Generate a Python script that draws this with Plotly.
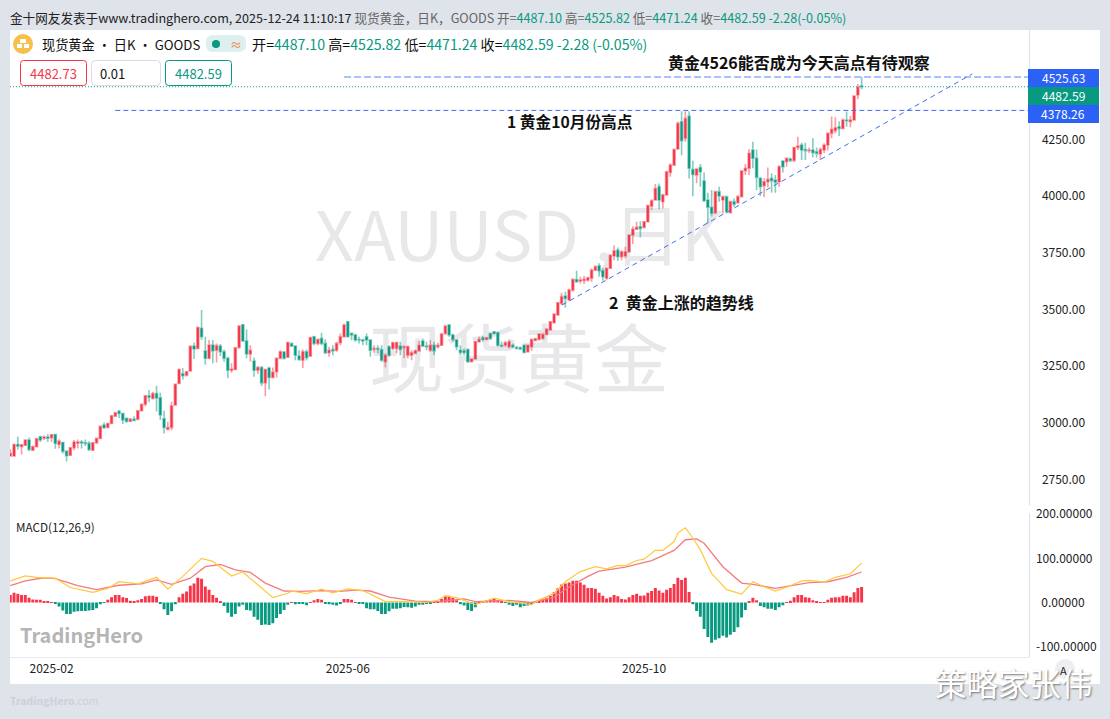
"""XAUUSD daily candles with MACD pane, TradingHero style screenshot."""
import plotly.graph_objects as go

W, H = 1110, 719
FONT = "Noto Sans CJK SC"

# daily candles
opens = [
    2855, 2855, 2905, 2895, 2902, 2925, 2880, 2895, 2939, 2933,
    2938, 2935, 2949, 2905, 2914, 2875, 2858, 2891, 2911, 2916,
    2913, 2910, 2880, 2913, 2932, 2991, 2980, 2998, 3030, 3052,
    3042, 3021, 3008, 3017, 3016, 3054, 3083, 3120, 3108, 3130,
    3111, 3019, 2972, 2980, 3079, 3174, 3217, 3210, 3229, 3339,
    3329, 3418, 3317, 3285, 3344, 3321, 3339, 3314, 3285, 3233,
    3236, 3333, 3433, 3362, 3304, 3273, 3233, 3245, 3177, 3242,
    3201, 3226, 3285, 3313, 3290, 3351, 3339, 3295, 3277, 3314,
    3295, 3380, 3351, 3373, 3351, 3310, 3324, 3321, 3354, 3380,
    3446, 3395, 3388, 3368, 3366, 3380, 3366, 3324, 3329, 3324,
    3270, 3336, 3329, 3329, 3339, 3333, 3299, 3299, 3307, 3318,
    3361, 3339, 3321, 3343, 3336, 3343, 3395, 3432, 3388, 3366,
    3321, 3317, 3324, 3270, 3282, 3358, 3376, 3368, 3395, 3402,
    3398, 3343, 3343, 3336, 3343, 3333, 3332, 3343, 3314, 3336,
    3364, 3368, 3373, 3390, 3410, 3442, 3476, 3527, 3560, 3542,
    3586, 3633, 3626, 3628, 3630, 3638, 3674, 3693, 3671, 3638,
    3682, 3736, 3762, 3733, 3736, 3755, 3829, 3854, 3865, 3862,
    3887, 3956, 3983, 4042, 3976, 4005, 4105, 4137, 4208, 4328,
    4255, 4353, 4118, 4093, 4126, 4067, 3983, 3951, 3927, 4020,
    3983, 3998, 3927, 3976, 3971, 3998, 4112, 4123, 4204, 4167,
    4079, 4046, 4064, 4079, 4071, 4064, 4155, 4152, 4164, 4157,
    4215, 4226, 4206, 4201, 4204, 4196, 4186, 4204, 4226, 4277,
    4289, 4306, 4299, 4336, 4329, 4336, 4446, 4487.10,
]
highs = [
    2883, 2905, 2939, 2905, 2928, 2936, 2901, 2932, 2944, 2945,
    2950, 2952, 2949, 2928, 2917, 2880, 2892, 2925, 2927, 2925,
    2927, 2920, 2916, 2935, 2986, 3002, 3000, 3035, 3048, 3057,
    3045, 3024, 3022, 3030, 3056, 3084, 3123, 3145, 3138, 3164,
    3133, 3054, 3005, 3094, 3174, 3240, 3241, 3228, 3340, 3355,
    3425, 3498, 3380, 3366, 3366, 3351, 3348, 3324, 3292, 3263,
    3335, 3432, 3436, 3412, 3343, 3289, 3251, 3251, 3236, 3248,
    3245, 3289, 3321, 3317, 3358, 3354, 3343, 3321, 3324, 3324,
    3380, 3385, 3373, 3398, 3368, 3336, 3343, 3358, 3395, 3439,
    3450, 3398, 3395, 3380, 3373, 3395, 3366, 3343, 3343, 3343,
    3307, 3343, 3358, 3358, 3358, 3343, 3343, 3321, 3324, 3362,
    3373, 3358, 3366, 3358, 3354, 3398, 3432, 3436, 3395, 3368,
    3343, 3329, 3329, 3285, 3360, 3380, 3385, 3380, 3398, 3405,
    3402, 3358, 3362, 3368, 3350, 3340, 3338, 3345, 3345, 3373,
    3376, 3395, 3398, 3416, 3448, 3482, 3534, 3574, 3579, 3593,
    3638, 3671, 3645, 3648, 3645, 3682, 3696, 3704, 3682, 3685,
    3743, 3784, 3774, 3762, 3777, 3832, 3868, 3887, 3890, 3890,
    3962, 3986, 4054, 4056, 4012, 4112, 4145, 4210, 4328, 4375,
    4375, 4375, 4156, 4123, 4142, 4105, 4015, 4027, 4024, 4042,
    4001, 4001, 3979, 3990, 4005, 4115, 4142, 4208, 4240, 4206,
    4083, 4079, 4127, 4101, 4093, 4137, 4157, 4171, 4171, 4218,
    4262, 4236, 4236, 4215, 4255, 4215, 4215, 4233, 4280, 4351,
    4348, 4331, 4343, 4373, 4354, 4445, 4495, 4525.82,
]
lows = [
    2851, 2855, 2883, 2861, 2900, 2875, 2878, 2892, 2916, 2925,
    2916, 2916, 2886, 2888, 2866, 2830, 2855, 2880, 2888, 2888,
    2898, 2877, 2879, 2907, 2930, 2975, 2979, 2995, 3028, 3022,
    2995, 3001, 3005, 3008, 3014, 3052, 3074, 3092, 3104, 3051,
    3013, 2954, 2968, 2968, 3075, 3172, 3192, 3208, 3228, 3282,
    3327, 3366, 3257, 3285, 3263, 3267, 3295, 3270, 3198, 3221,
    3234, 3327, 3362, 3285, 3271, 3204, 3216, 3163, 3118, 3148,
    3201, 3201, 3283, 3280, 3290, 3336, 3277, 3274, 3243, 3277,
    3291, 3343, 3343, 3343, 3304, 3292, 3299, 3314, 3343, 3377,
    3380, 3366, 3358, 3351, 3343, 3343, 3292, 3310, 3307, 3270,
    3245, 3292, 3321, 3307, 3299, 3285, 3285, 3277, 3304, 3314,
    3336, 3321, 3314, 3299, 3329, 3339, 3388, 3380, 3358, 3321,
    3299, 3299, 3266, 3268, 3280, 3354, 3358, 3366, 3366, 3390,
    3336, 3333, 3336, 3329, 3330, 3325, 3322, 3310, 3310, 3318,
    3360, 3365, 3368, 3388, 3408, 3440, 3474, 3520, 3508, 3538,
    3579, 3618, 3615, 3613, 3623, 3623, 3671, 3645, 3627, 3630,
    3680, 3718, 3715, 3718, 3726, 3751, 3789, 3851, 3818, 3860,
    3885, 3939, 3980, 3942, 3946, 4003, 4086, 4135, 4206, 4181,
    4240, 4078, 4000, 4057, 4042, 3976, 3880, 3910, 3921, 3976,
    3924, 3924, 3924, 3954, 3968, 3995, 4093, 4093, 4123, 4027,
    4001, 3995, 4039, 4015, 4015, 4042, 4105, 4130, 4152, 4152,
    4204, 4160, 4160, 4190, 4171, 4171, 4160, 4189, 4201, 4255,
    4277, 4265, 4295, 4306, 4304, 4333, 4427, 4471.24,
]
closes = [
    2866, 2905, 2898, 2904, 2925, 2883, 2895, 2930, 2925, 2938,
    2933, 2948, 2910, 2920, 2875, 2856, 2891, 2916, 2916, 2912,
    2910, 2883, 2913, 2932, 2985, 2979, 2998, 3032, 3045, 3042,
    3013, 3007, 3016, 3011, 3054, 3082, 3120, 3114, 3130, 3110,
    3035, 2980, 2980, 3076, 3171, 3236, 3208, 3226, 3338, 3326,
    3421, 3380, 3286, 3344, 3318, 3341, 3314, 3285, 3233, 3238,
    3332, 3427, 3362, 3304, 3321, 3233, 3245, 3177, 3236, 3201,
    3224, 3285, 3314, 3285, 3355, 3339, 3299, 3280, 3314, 3288,
    3377, 3351, 3368, 3351, 3310, 3321, 3318, 3351, 3380, 3432,
    3380, 3388, 3366, 3366, 3362, 3366, 3321, 3329, 3324, 3277,
    3299, 3299, 3354, 3355, 3324, 3336, 3336, 3310, 3318, 3343,
    3339, 3336, 3343, 3318, 3343, 3392, 3427, 3388, 3368, 3336,
    3311, 3311, 3270, 3282, 3358, 3368, 3368, 3376, 3373, 3395,
    3343, 3339, 3354, 3358, 3336, 3329, 3327, 3311, 3343, 3368,
    3371, 3392, 3390, 3414, 3446, 3480, 3530, 3557, 3549, 3586,
    3633, 3623, 3630, 3634, 3640, 3674, 3689, 3671, 3645, 3682,
    3740, 3759, 3733, 3755, 3755, 3829, 3854, 3863, 3858, 3887,
    3959, 3980, 4034, 3983, 4005, 4108, 4137, 4206, 4321, 4245,
    4343, 4123, 4096, 4120, 4108, 3980, 3951, 3924, 4020, 4001,
    3998, 3932, 3976, 3965, 3998, 4111, 4123, 4189, 4167, 4083,
    4042, 4064, 4074, 4068, 4061, 4130, 4130, 4167, 4157, 4215,
    4221, 4204, 4201, 4204, 4192, 4189, 4206, 4226, 4277, 4295,
    4302, 4299, 4336, 4333, 4336, 4442, 4480, 4482.59,
]

# macd histogram, one bar per candle
macd_hist = [
    17, 22, 20, 17, 17, 11, 7, 6, 6, 3,
    2, 1, -3, -9, -18, -26, -26, -21, -20, -19,
    -19, -18, -17, -13, -4, -1, 6, 12, 17, 17,
    12, 10, 4, 2, 5, 8, 14, 15, 15, 13,
    -2, -15, -28, -20, -4, 12, 20, 25, 38, 43,
    56, 54, 36, 29, 17, 11, 2, -8, -23, -32,
    -26, -9, -5, -17, -18, -32, -39, -51, -50, -51,
    -47, -35, -26, -17, -5, 1, -4, -3, -2, -6,
    1, 5, 8, 6, -2, -4, -5, -7, -2, 8,
    8, 6, 1, -2, -2, -13, -15, -15, -19, -26,
    -26, -20, -14, -14, -13, -10, -11, -12, -9, -5,
    -5, -3, -3, 1, 1, 8, 15, 15, 11, 5,
    -4, -7, -17, -19, -11, 3, 2, 5, 6, 8,
    5, 2, -1, -5, -8, -5, -11, -8, -7, -4,
    1, 4, 6, 11, 15, 23, 32, 41, 43, 45,
    49, 49, 45, 40, 33, 33, 31, 22, 15, 9,
    12, 17, 14, 8, 7, 12, 17, 20, 15, 16,
    22, 26, 33, 27, 22, 29, 33, 42, 56, 51,
    56, 24, -4, -19, -32, -60, -78, -91, -84, -81,
    -75, -79, -73, -67, -56, -34, -17, 2, 11, 5,
    -8, -11, -14, -14, -17, -11, -6, 1, 4, 12,
    17, 17, 12, 11, 5, 2, 1, 1, 6, 11,
    12, 12, 15, 15, 12, 23, 33, 35,
]

# macd lines, read at the bends only
dif_idx = [
    0, 4, 7, 12, 16, 19, 22, 26, 29, 34, 39, 42, 46, 51, 54, 59, 62, 66, 70, 74,
    75, 79, 83, 86, 90, 94, 96, 100, 105, 111, 114, 116, 119, 124, 129, 133, 139,
    141, 145, 148, 152, 156, 159, 162, 164, 167, 169, 172, 174, 177, 178, 180, 182,
    184, 187, 191, 195, 198, 201, 204, 208, 211, 213, 217, 220, 224, 227,
]
dif_vals = [
    49, 60, 57, 55, 34, 29, 23, 32, 47, 42, 57, 30, 59, 100, 93, 60, 69, 40, 11, 21,
    26, 20, 30, 22, 31, 27, 19, 2, 2, 0, 5, 15, 11, -5, 10, 2, -5,
    6, 21, 47, 70, 81, 76, 84, 83, 95, 98, 118, 118, 138, 157, 169, 146,
    119, 66, 29, 19, 47, 36, 26, 38, 49, 50, 46, 57, 65, 89,
]
dea_idx = [
    0, 4, 9, 12, 18, 23, 29, 35, 39, 43, 48, 52, 56, 60, 64, 68, 73, 77, 83, 88, 92, 96,
    101, 108, 114, 121, 124, 133, 139, 145, 149, 154, 157, 164, 171, 177, 180, 183, 185,
    190, 195, 198, 204, 210, 213, 218, 223, 227,
]
dea_vals = [
    38, 49, 56, 54, 38, 29, 39, 42, 51, 41, 55, 81, 86, 74, 68, 44, 26, 25, 27, 25, 28, 26,
    12, 3, 2, 8, 2, 5, 0, 12, 35, 59, 71, 80, 95, 118, 142, 144, 134,
    81, 44, 41, 32, 40, 45, 47, 57, 69,
]

price_ticks = [4250, 4000, 3750, 3500, 3250, 3000, 2750]
macd_ticks = [200, 100, 0, -100]
macd_tick_text = ["200.00000", "100.00000", "\u00a0\u00a00.00000", "-100.00000"]
month_idx = [11, 90, 169]
month_labels = ["2025-02", "2025-06", "2025-10"]

# drawn levels and trend line
high_level = 4525.63
last_level = 4482.59
oct_level = 4378.26
high_line_idx = [89, 271.5]
oct_line_idx = [28, 271.5]
last_line_idx = [-0.1, 271.5]
trend_idx = [147.1, 256.5]
trend_vals = [3520, 4539]

assert len(opens) == len(highs) == len(lows) == len(closes) == len(macd_hist) == 228

RED = "#F63548"
GREEN = "#089981"
BLUE = "#2B62F5"
candle_x = list(range(len(opens)))


def px(x):
    return x / W


def py(y):
    return 1 - y / H


def label(x, y, text, size=12, color="#111", anchor="left", **kw):
    return dict(xref="paper", yref="paper", x=px(x), y=py(y), text=text, showarrow=False,
                xanchor=anchor, yanchor="middle", align=anchor, borderpad=0, borderwidth=0,
                font=dict(family=FONT, size=size, color=color, **kw))


def box(x0, y0, x1, y1, fill, line=None, layer="above"):
    return dict(type="rect", xref="paper", yref="paper", x0=px(x0), y0=py(y0), x1=px(x1), y1=py(y1),
                fillcolor=fill, line=dict(color=line, width=1) if line else dict(width=0), layer=layer)


def round_box(x0, y0, x1, y1, r, fill, line=None):
    # rounded rect as a path in paper coords
    a, b, c, d = px(x0), py(y0), px(x1), py(y1)
    rx, ry = r / W, r / H
    path = (f"M{a + rx},{b} L{c - rx},{b} Q{c},{b} {c},{b - ry} L{c},{d + ry} Q{c},{d} {c - rx},{d} "
            f"L{a + rx},{d} Q{a},{d} {a},{d + ry} L{a},{b - ry} Q{a},{b} {a + rx},{b} Z")
    return dict(type="path", xref="paper", yref="paper", path=path, fillcolor=fill,
                line=dict(color=line, width=1) if line else dict(width=0), layer="above")


def dot(x, y, r, fill):
    return dict(type="circle", xref="paper", yref="paper", x0=px(x - r), x1=px(x + r), y0=py(y + r), y1=py(y - r),
                fillcolor=fill, line=dict(width=0), layer="above")


fig = go.Figure()

fig.add_trace(go.Candlestick(
    x=candle_x, open=opens, high=highs, low=lows, close=closes,
    whiskerwidth=0,
    increasing=dict(line=dict(color="rgba(246,53,72,0.5)", width=1.6), fillcolor=RED),
    decreasing=dict(line=dict(color="rgba(8,153,129,0.5)", width=1.6), fillcolor=GREEN),
    hoverinfo="skip", showlegend=False,
))

# level lines
fig.add_trace(go.Scatter(x=high_line_idx, y=[high_level] * 2, mode="lines", hoverinfo="skip", showlegend=False,
                         line=dict(color="#8FAEFB", width=1.5, dash="7px,3px")))
fig.add_trace(go.Scatter(x=oct_line_idx, y=[oct_level] * 2, mode="lines", hoverinfo="skip", showlegend=False,
                         line=dict(color="#3F6EEE", width=1, dash="5px,3px")))
fig.add_trace(go.Scatter(x=last_line_idx, y=[last_level] * 2, mode="lines", hoverinfo="skip", showlegend=False,
                         line=dict(color=GREEN, width=1, dash="1px,2px")))
fig.add_trace(go.Scatter(x=trend_idx, y=trend_vals, mode="lines", hoverinfo="skip", showlegend=False,
                         line=dict(color="#3F6EEE", width=1, dash="5px,4px")))

# macd pane
fig.add_trace(go.Bar(x=candle_x, y=macd_hist, xaxis="x2", yaxis="y2",
                     marker=dict(color=[RED if v >= 0 else GREEN for v in macd_hist], line=dict(width=0)),
                     hoverinfo="skip", showlegend=False))
fig.add_trace(go.Scatter(x=dea_idx, y=dea_vals, xaxis="x2", yaxis="y2", mode="lines", hoverinfo="skip",
                         showlegend=False, line=dict(color="#F47C80", width=1.3)))
fig.add_trace(go.Scatter(x=dif_idx, y=dif_vals, xaxis="x2", yaxis="y2", mode="lines", hoverinfo="skip",
                         showlegend=False, line=dict(color="#FFC83D", width=1.2)))

val = lambda s: f'<span style="color:{GREEN}">{s}</span>'
grey = lambda s: f'<span style="color:#666">{s}</span>'
top_line = ("金十网友发表于www.tradinghero.com, 2025-12-24 11:10:17 "
            + grey("现货黄金，日K，GOODS 开=") + val("4487.10") + grey(" 高=") + val("4525.82")
            + grey(" 低=") + val("4471.24") + grey(" 收=") + val("4482.59 -2.28(-0.05%)"))
ohlc_line = ("开=" + val("4487.10") + " 高=" + val("4525.82") + " 低=" + val("4471.24")
             + " 收=" + val("4482.59") + " " + val("-2.28 (-0.05%)"))

watermark = "rgba(110,115,130,0.16)"
annotations = [
    label(10, 18, top_line, size=12.6, color="#222"),
    label(42, 44, "现货黄金 · 日K · GOODS", size=13.2, color="#111"),
    label(236, 44, "≈", size=12, color="#F47A3C", anchor="center"),
    label(252, 44, ohlc_line, size=14.15, color="#111"),
    label(53.5, 73, "4482.73", size=13, color=RED, anchor="center"),
    label(100, 73, "0.01", size=13, color="#111"),
    label(198.5, 73, "4482.59", size=13, color=GREEN, anchor="center"),
    label(520, 232, "XAUUSD ,日K", size=68, color=watermark, anchor="center"),
    label(519, 355, "现货黄金", size=75, color=watermark, anchor="center"),
    label(799, 62, "<b>黄金4526能否成为今天高点有待观察</b>", size=16, anchor="center"),
    label(570, 121, "<b>1 黄金10月份高点</b>", size=15.7, anchor="center"),
    label(681, 302, "<b>2  黄金上涨的趋势线</b>", size=16, anchor="center"),
    label(1063, 77.5, "4525.63", size=12, color="white", anchor="center"),
    label(1063, 95.5, "4482.59", size=12, color="white", anchor="center"),
    label(1063, 114, "4378.26", size=12, color="white", anchor="center"),
    label(16, 526, "MACD(12,26,9)", size=11.7, color="#222"),
    label(20, 634, "<b>TradingHero</b>", size=20, color="#B5B5B5"),
    label(10, 700, "<b>TradingHero</b>.com", size=10.5, color="#CBD0DA"),
    label(1063, 670, "A", size=11, color="#222", anchor="center"),
    label(1014, 682, "策略家张伟", size=31.5, color="white", anchor="center",
          shadow="1px 1px 2px #777"),
]

shapes = [
    box(10, 30, 1100, 684, "white", layer="below"),
    dict(type="circle", xref="paper", yref="paper", x0=px(13), x1=px(33), y0=py(54), y1=py(34),
         fillcolor="#F7C04C", line=dict(width=0), layer="above"),
    box(20, 39, 26, 43, "white"),
    box(17, 44, 22, 48, "white"),
    box(24, 44, 29, 48, "white"),
    box(1028, 69, 1099, 87, BLUE),
    box(1028, 87, 1099, 105, GREEN),
    box(1028, 105, 1099, 123, BLUE),
    dot(1065, 669, 10, "#EDEEF1"),
    round_box(206, 35, 246, 52, 7, "#DDEFEE"),
    dot(216, 44, 4, GREEN),
    round_box(20.5, 60.5, 86.5, 85.5, 3, "white", RED),
    round_box(91.5, 60.5, 160.5, 85.5, 4, "white", "#D9DBE5"),
    round_box(165.5, 60.5, 231.5, 85.5, 3, "white", GREEN),
]

fig.update_layout(
    width=W, height=H,
    margin=dict(l=0, r=0, t=0, b=0),
    paper_bgcolor="#DFE3EA", plot_bgcolor="rgba(0,0,0,0)",
    bargap=0.22, boxgap=0.25, hovermode=False, showlegend=False,
    font=dict(family=FONT, size=12, color="#222"),
    xaxis=dict(domain=[px(10), px(1028.5)], range=[-0.08, 271.5], anchor="y", automargin=False,
               rangeslider=dict(visible=False), showgrid=False, zeroline=False,
               showticklabels=False, ticks=""),
    xaxis2=dict(domain=[px(10), px(1028.5)], range=[-0.08, 271.5], anchor="y2", automargin=False,
                tickmode="array", tickvals=month_idx, ticktext=month_labels, ticks="",
                showgrid=False, zeroline=False, showline=True, linecolor="#E8EAF0", linewidth=1,
                tickfont=dict(size=12, color="#222"), ticklabelstandoff=1),
    yaxis=dict(domain=[py(505), py(30)], range=[2638.4, 4732.8], anchor="x", side="right", automargin=False,
               tickmode="array", tickvals=price_ticks, tickformat=".2f", ticks="",
               showgrid=False, zeroline=False, showline=True, linecolor="#DDE0EA", linewidth=1,
               tickfont=dict(size=12, color="#222"), ticklabelstandoff=10),
    yaxis2=dict(domain=[py(657), py(513)], range=[-123.3, 202.5], anchor="x2", side="right", automargin=False,
                tickmode="array", tickvals=macd_ticks, ticktext=macd_tick_text, ticks="",
                showgrid=False, zeroline=False, showline=True, linecolor="#DDE0EA", linewidth=1,
                tickfont=dict(size=12, color="#222"), ticklabelstandoff=4),
    shapes=shapes,
    annotations=annotations,
)

fig.write_html("out.html", config=dict(displayModeBar=False),
               post_script="document.body.style.margin='0';")
